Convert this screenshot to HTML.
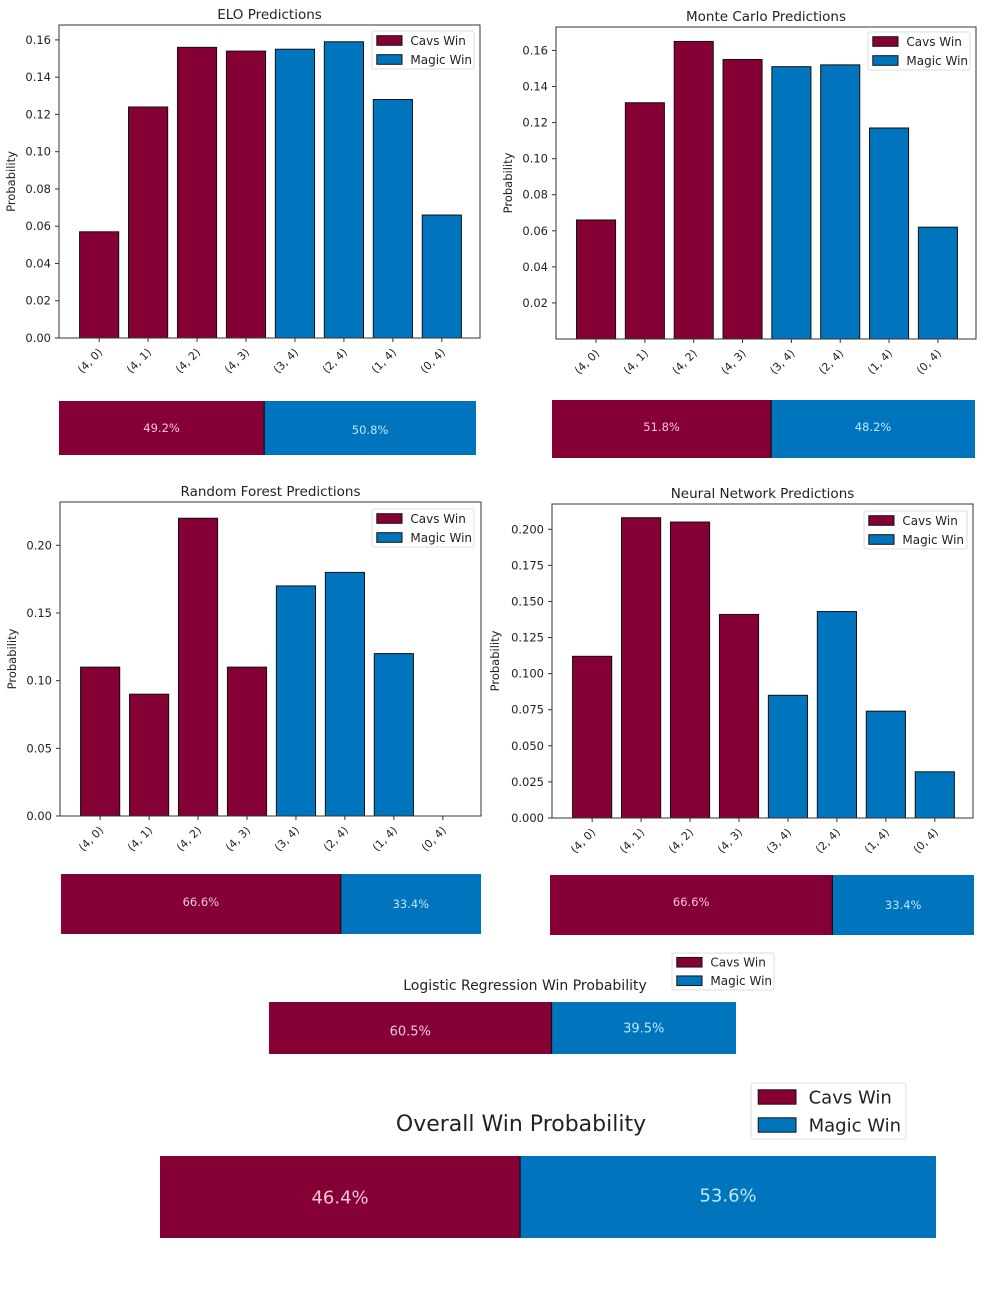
<!DOCTYPE html>
<html><head><meta charset="utf-8"><style>
html,body{margin:0;padding:0;background:#fff;}
svg{display:block;font-family:"DejaVu Sans","Liberation Sans",sans-serif;}
</style></head><body>
<svg id="chart" width="1000" height="1293" viewBox="0 0 1000 1293" xmlns="http://www.w3.org/2000/svg"></svg>
<script>
const categories = ["(4, 0)","(4, 1)","(4, 2)","(4, 3)","(3, 4)","(2, 4)","(1, 4)","(0, 4)"];
const seriesTeam = ["Cavs Win","Cavs Win","Cavs Win","Cavs Win","Magic Win","Magic Win","Magic Win","Magic Win"];
const eloValues = [0.057,0.124,0.156,0.154,0.155,0.159,0.128,0.066];
const monteCarloValues = [0.066,0.131,0.165,0.155,0.151,0.152,0.117,0.062];
const randomForestValues = [0.11,0.09,0.22,0.11,0.17,0.18,0.12,0.0];
const neuralNetValues = [0.112,0.208,0.205,0.141,0.085,0.143,0.074,0.032];
const eloTicks = [0,0.02,0.04,0.06,0.08,0.10,0.12,0.14,0.16];
const mcTicks = [0.02,0.04,0.06,0.08,0.10,0.12,0.14,0.16];
const rfTicks = [0,0.05,0.10,0.15,0.20];
const nnTicks = [0,0.025,0.05,0.075,0.1,0.125,0.15,0.175,0.2];
const eloSplit = [49.2,50.8];
const mcSplit = [51.8,48.2];
const rfSplit = [66.6,33.4];
const nnSplit = [66.6,33.4];
const lrSplit = [60.5,39.5];
const overallSplit = [46.4,53.6];

const NS="http://www.w3.org/2000/svg";
const svg=document.getElementById('chart');
const RED="#850034", BLUE="#0174be";
function mk(tag,attrs,parent,text){const e=document.createElementNS(NS,tag);for(const k in attrs)e.setAttribute(k,attrs[k]);if(text!==undefined)e.textContent=text;(parent||svg).appendChild(e);return e;}

function legend(g,x,y,w,h,fs){
  const box=mk('rect',{x:x,y:y,width:w,height:h,fill:'#fff',stroke:'#ddd','stroke-width':1,rx:2},g);
  
  
  const sw=fs*2.1, sh=fs*0.8, rowH=h/2;
  [["Cavs Win",RED],["Magic Win",BLUE]].forEach((it,i)=>{
    const cy=y+rowH*(i+0.5);
    const s=mk('rect',{x:x+fs*0.4,y:cy-sh/2,width:sw,height:sh,fill:it[1],stroke:'#111','stroke-width':1},g);
    
    
    const t=mk('text',{x:x+fs*0.4+sw+fs*0.7,y:cy+fs*0.36,'font-size':fs,fill:'#222'},g,it[0]);
    
    
  });
}

function barPanel(name,title,values,ticks,tickFmt,box,ymax,leg,ylOff){
  const g=mk('g',{});
  
  
  const [L,T,R,B]=box;
  const xmin=-0.82,xmax=7.78;
  const xs=v=>L+(v-xmin)/(xmax-xmin)*(R-L);
  const ys=v=>B-v/ymax*(B-T);
  const tt=mk('text',{x:(L+R)/2,y:T-6,'text-anchor':'middle','font-size':13.5,fill:'#222'},g,title);
  
  
  values.forEach((v,i)=>{
    const w=0.8;
    const r=mk('rect',{x:xs(i-w/2),y:ys(v),width:xs(i+w/2)-xs(i-w/2),height:B-ys(v),fill:seriesTeam[i]==="Cavs Win"?RED:BLUE,stroke:'#111','stroke-width':1},g);
    
    
  });
  const fr=mk('rect',{x:L,y:T,width:R-L,height:B-T,fill:'none',stroke:'#333','stroke-width':1},g);
  
  
  ticks.forEach(t=>{
    const y=ys(t);
    mk('line',{x1:L-4,x2:L,y1:y,y2:y,stroke:'#333'},g);
    const lb=mk('text',{x:L-8,y:y+4,'text-anchor':'end','font-size':11.5,fill:'#222'},g,tickFmt(t));
    
    
  });
  categories.forEach((c,i)=>{
    const x=xs(i);
    mk('line',{x1:x,x2:x,y1:B,y2:B+4,stroke:'#333'},g);
    const lb=mk('text',{x:x+4,y:B+15,'text-anchor':'end','font-size':11,fill:'#222',transform:`rotate(-45 ${x+4} ${B+15})`},g,c);
    
    
  });
  const yl=mk('text',{x:0,y:0,'text-anchor':'middle','font-size':11.5,fill:'#222',transform:`translate(${L-ylOff},${(T+B)/2}) rotate(-90)`},g,'Probability');
  
  
  legend(g,leg[0],leg[1],leg[2],leg[3],12);
}

function splitBar(name,split,box,fs,labelY){
  const g=mk('g',{});
  
  
  const [L,T,R,B]=box;
  const total=split[0]+split[1];
  const xm=L+split[0]/total*(R-L);
  const a=mk('rect',{x:L,y:T,width:xm-L,height:B-T,fill:RED},g);
  
  
  const b=mk('rect',{x:xm,y:T,width:R-xm,height:B-T,fill:BLUE},g);
  
  
  mk('line',{x1:xm,x2:xm,y1:T,y2:B,stroke:'#111','stroke-width':1.2},g);
  const ta=mk('text',{x:L+(xm-L)/2,y:(T+B)/2+fs*0.35+(labelY?labelY[0]:0),'text-anchor':'middle','font-size':fs,fill:'#f4c6da'},g,split[0].toFixed(1)+'%');
  
  
  const tb=mk('text',{x:xm+(R-xm)/2,y:(T+B)/2+fs*0.35+(labelY?labelY[1]:0),'text-anchor':'middle','font-size':fs,fill:'#bfe6fb'},g,split[1].toFixed(1)+'%');
  
  
  return g;
}

const f2=t=>t.toFixed(2), f3=t=>t.toFixed(3);
barPanel('elo','ELO Predictions',eloValues,eloTicks,f2,[59,25,480,338],0.168,[372,31,102,38],44);
barPanel('monte-carlo','Monte Carlo Predictions',monteCarloValues,mcTicks,f2,[556,27,976,339],0.173,[868,32,102,38],44);
barPanel('random-forest','Random Forest Predictions',randomForestValues,rfTicks,f2,[60,502,481,816],0.232,[372,509,102,38],44);
barPanel('neural-network','Neural Network Predictions',neuralNetValues,nnTicks,f3,[552,504,973,818],0.2175,[864,511,103,38],53);

splitBar('elo',eloSplit,[59,401,476,455],11.5,[0,2]);
splitBar('monte-carlo',mcSplit,[552,400,975,458],11.5,[-2,-2]);
splitBar('random-forest',rfSplit,[61,874,481,934],11.5,[-2,0]);
splitBar('neural-network',nnSplit,[550,875,974,935],11.5,[-3,0]);

const lrt=mk('text',{x:525,y:990,'text-anchor':'middle','font-size':14,fill:'#222'},svg,'Logistic Regression Win Probability');


splitBar('logistic-regression',lrSplit,[269,1002,736,1054],13,[3,0]);
const lg1=mk('g',{});


legend(lg1,672,953,102,37,12);

const ot=mk('text',{x:521,y:1131,'text-anchor':'middle','font-size':22,fill:'#222'},svg,'Overall Win Probability');


splitBar('overall',overallSplit,[160,1156,936,1238],18,[0,-2]);
const lg2=mk('g',{});


legend(lg2,751,1083,155,56,18);
</script>
</body></html>
